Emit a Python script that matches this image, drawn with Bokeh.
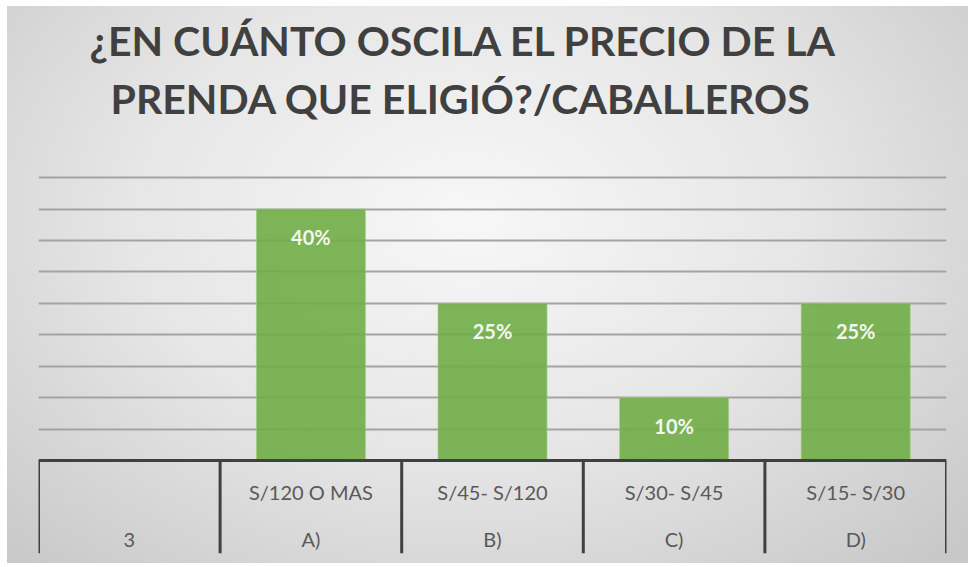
from bokeh.plotting import figure
from bokeh.models import (ColumnDataSource, FactorRange, CategoricalAxis, Grid,
                          SingleIntervalTicker, Whisker, LabelSet, Title, Range1d)
from bokeh.core.properties import value
from bokeh.embed import file_html
from bokeh.resources import INLINE

# ---------------- data ----------------
title_lines = ["¿EN CUÁNTO OSCILA EL PRECIO DE LA", "PRENDA QUE ELIGIÓ?/CABALLEROS"]
categories = ["3", "A)", "B)", "C)", "D)"]
price_labels = ["", "S/120 O MAS", "S/45- S/120", "S/30- S/45", "S/15- S/30"]
bar_categories = ["A)", "B)", "C)", "D)"]
bar_values = [0.40, 0.25, 0.10, 0.25]
grid_step = 0.05
grid_max = 0.45

# ---------------- style ----------------
W, H = 968, 567
FONT = "Lato"
DARK = "#404040"
LABEL_GRAY = "#595959"
GREEN = "#70ad47"
divider_depth = -0.148   # how far the category table extends below 0 (data units)
y_top = 0.533

p = figure(width=W, height=H, output_backend="svg", toolbar_location=None,
           x_range=FactorRange(factors=categories, range_padding=0, factor_padding=0),
           y_range=Range1d(divider_depth, y_top),
           x_axis_location=None, y_axis_location=None, title=None,
           min_border_left=38, min_border_right=22, min_border_top=125,
           min_border_bottom=14)
p.extra_x_ranges = {"price": FactorRange(factors=price_labels, range_padding=0, factor_padding=0)}

# title: two centred lines (added from the frame outward)
for line, off, so in ((title_lines[1], 72, 6), (title_lines[0], 51, 8)):
    p.add_layout(Title(text=line, align="left", offset=off, text_font=FONT,
                       text_font_size="41px", text_font_style="bold",
                       text_color=DARK, standoff=so), "above")

p.background_fill_color = None
p.border_fill_color = None
p.outline_line_color = None
p.styles = {"background": "radial-gradient(ellipse 70% 85% at 48% 38%, #f7f7f7 0%, #e6e6e6 50%, #c8c8c8 100%) 7px 6px / 961px 557px no-repeat, #ffffff"}

# remove default grids
p.center = [r for r in p.center if not isinstance(r, Grid)]
ygrid = Grid(dimension=1, ticker=SingleIntervalTicker(interval=grid_step),
             bounds=(0, grid_max), grid_line_color="#a3a3a3", grid_line_width=2)
p.add_layout(ygrid, "center")

# bars
src = ColumnDataSource(dict(cat=bar_categories, val=bar_values,
                            lbl=[f"{round(v*100)}%" for v in bar_values]))
p.vbar(x="cat", top="val", width=0.6, source=src, fill_color=GREEN,
       fill_alpha=0.9, line_color="#9ccc7c", line_alpha=0.6, line_width=1)

labels = LabelSet(x="cat", y="val", text="lbl", source=src, y_offset=-28,
                  text_align="center", text_baseline="middle",
                  text_font=value(FONT), text_font_size="20px",
                  text_font_style="bold", text_color="#f4f7ef")
p.add_layout(labels)

# table dividers
n = len(categories)
div_src = ColumnDataSource(dict(base=list(range(n + 1)), lower=[0] * (n + 1),
                                upper=[divider_depth] * (n + 1)))
p.add_layout(Whisker(base="base", lower="lower", upper="upper", source=div_src,
                     dimension="height", lower_head=None, upper_head=None,
                     line_color=DARK, line_width=3, level="overlay"))

# category axes (two rows), fixed at y = 0
ax1 = CategoricalAxis(x_range_name="price", fixed_location=0)
ax2 = CategoricalAxis(fixed_location=0)
for ax in (ax1, ax2):
    ax.major_tick_line_color = None
    ax.major_tick_out = 0
    ax.major_tick_in = 0
    ax.major_label_text_font = FONT
    ax.major_label_text_font_size = "20px"
    ax.major_label_text_color = LABEL_GRAY
ax1.axis_line_color = DARK
ax1.axis_line_width = 3
ax1.major_label_standoff = 20
ax2.axis_line_color = None
ax2.major_label_standoff = 67
p.add_layout(ax1, "below")
p.add_layout(ax2, "below")

open("out.html", "w").write(file_html(p, INLINE))
